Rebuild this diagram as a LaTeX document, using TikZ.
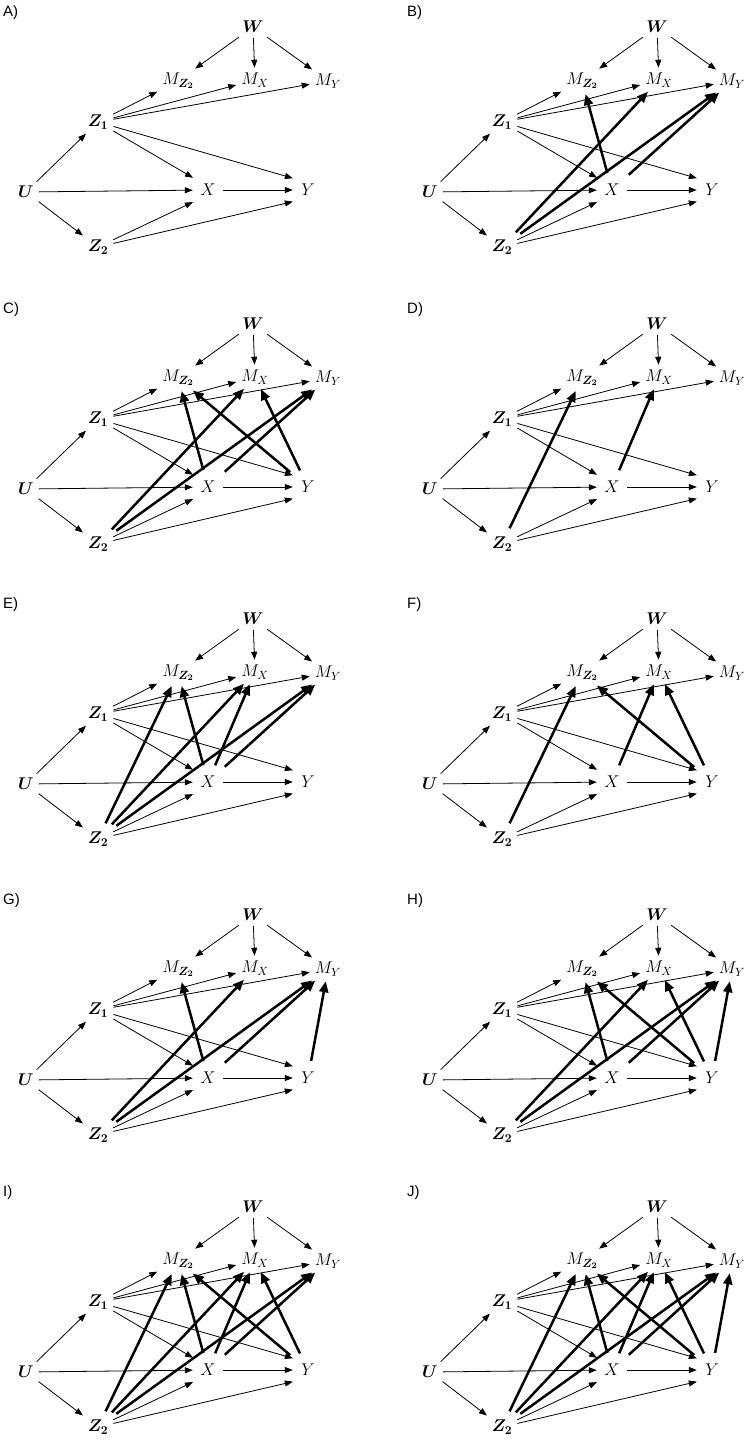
\RequirePackage{fix-cm}
\documentclass[tikz,border=0pt]{standalone}
\usepackage{bm}
\usepackage{fontspec}
\newfontfamily\panelfont{Liberation Sans}
\usetikzlibrary{arrows.meta}

\tikzset{
  var/.style={inner sep=3pt, font=\fontsize{17}{20}\selectfont},
  wide/.style={var, minimum width=26pt, minimum height=22pt},
  panellabel/.style={anchor=west, inner sep=0pt, font=\panelfont\fontsize{15}{17}\selectfont},
  weak/.style={line width=0.8pt, -{Triangle[length=8pt,width=6pt]}, shorten >=2pt, shorten <=2pt},
  strong/.style={line width=2.5pt, -{Triangle[length=11pt,width=9pt]}, shorten >=2pt, shorten <=6pt}
}

% one panel of the graph, #1 = letter, (#2,#3) = offset
\newcommand{\dagpanel}[3]{%
  \begin{scope}[shift={(#2,#3)}, name prefix=#1-]
    \node[panellabel] (tag) at (3,13) {#1)};
    \node[var] (W)  at (253,27)  {$\bm{W}$};
    \node[var] (MZ) at (178,81)  {$M_{\bm{Z_2}}$};
    \node[var] (MX) at (255,80)  {$M_X$};
    \node[var] (MY) at (328,81)  {$M_Y$};
    \node[var] (Z1) at (98,122)  {$\bm{Z_1}$};
    \node[var] (U)  at (26,192)  {$\bm{U}$};
    \node[wide] (X) at (208,190) {$X$};
    \node[wide] (Y) at (308,190) {$Y$};
    \node[var] (Z2) at (98,247)  {$\bm{Z_2}$};
    \foreach \from/\to in {W/MZ,W/MX,W/MY,Z1/MZ,Z1/MX,Z1/MY,Z1/X.north west,Z1/Y.north west,
        U/Z1,U/X,U/Z2,X/Y,Z2/X.south west,Z2/Y.south west}
      \draw[weak] (\from) -- (\to);
  \end{scope}}

\begin{document}
\begin{tikzpicture}[x=1pt,y=-1pt]
\useasboundingbox (0,0) rectangle (745,1442);
\dagpanel{A}{0}{0}
\dagpanel{B}{404}{0}
\foreach \a/\b in {X/MZ,Z2/MX,Z2/MY,X/MY}
  \draw[strong] (B-\a) -- (B-\b);
\dagpanel{C}{0}{297}
\foreach \a/\b in {X/MZ,Z2/MX,Z2/MY,X/MY,Y/MZ,Y/MX}
  \draw[strong] (C-\a) -- (C-\b);
\dagpanel{D}{404}{297}
\foreach \a/\b in {Z2/MZ,X/MX}
  \draw[strong] (D-\a) -- (D-\b);
\dagpanel{E}{0}{592}
\foreach \a/\b in {Z2/MZ,X/MZ,Z2/MX,X/MX,Z2/MY,X/MY}
  \draw[strong] (E-\a) -- (E-\b);
\dagpanel{F}{404}{592}
\foreach \a/\b in {Z2/MZ,X/MX,Y/MZ,Y/MX}
  \draw[strong] (F-\a) -- (F-\b);
\dagpanel{G}{0}{888}
\foreach \a/\b in {X/MZ,Z2/MX,Z2/MY,X/MY,Y/MY}
  \draw[strong] (G-\a) -- (G-\b);
\dagpanel{H}{404}{888}
\foreach \a/\b in {X/MZ,Z2/MX,Z2/MY,X/MY,Y/MZ,Y/MX,Y/MY}
  \draw[strong] (H-\a) -- (H-\b);
\dagpanel{I}{0}{1180}
\foreach \a/\b in {Z2/MZ,X/MZ,Z2/MX,X/MX,Z2/MY,X/MY,Y/MZ,Y/MX}
  \draw[strong] (I-\a) -- (I-\b);
\dagpanel{J}{404}{1180}
\foreach \a/\b in {Z2/MZ,X/MZ,Z2/MX,X/MX,Z2/MY,X/MY,Y/MZ,Y/MX,Y/MY}
  \draw[strong] (J-\a) -- (J-\b);
\end{tikzpicture}
\end{document}
